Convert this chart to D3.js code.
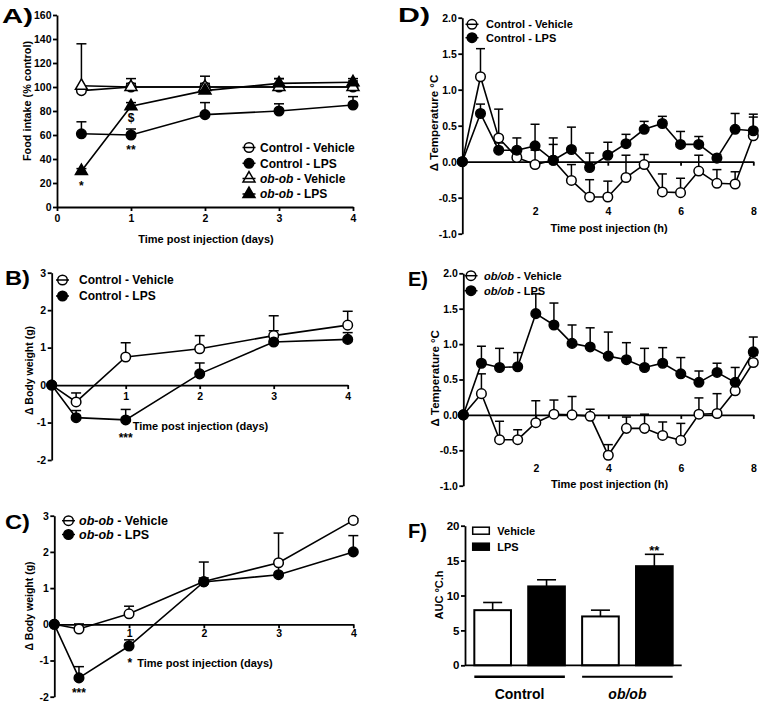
<!DOCTYPE html>
<html>
<head>
<meta charset="utf-8">
<script src="https://cdn.jsdelivr.net/npm/d3@7"></script>
<style>
body { margin: 0; background: #fff; }
svg text { font-family: "Liberation Sans", Arial, Helvetica, sans-serif; font-weight: bold; fill: #000; }
</style>
</head>
<body>
<svg id="fig" width="767" height="709"></svg>
<script>
// ---------------- data ----------------
// A) food intake (% control)
var daysA = [0.33, 1, 2, 3, 4];
var foodCtrlVeh = [97, 100, 100, 100, 100];
var foodCtrlVehSem = [2, 3, 3, 3, 3];
var foodCtrlLps = [61, 60, 77, 80, 85];
var foodCtrlLpsSem = [10, 5, 10, 6, 7];
var foodObVeh = [101, 100, 100, 100, 100];
var foodObVehSem = [35, 7, 9, 7, 5];
var foodObLps = [30, 84, 97, 103, 104];
var foodObLpsSem = [2, 3, 3, 4, 3];

// B) / C) body weight change (g)
var daysBC = [0, 0.33, 1, 2, 3, 4];
var bwCtrlVeh = [0, -0.45, 0.75, 0.97, 1.32, 1.6];
var bwCtrlVehSem = [0, 0.24, 0.38, 0.35, 0.53, 0.37];
var bwCtrlLps = [0, -0.87, -0.93, 0.3, 1.15, 1.22];
var bwCtrlLpsSem = [0, 0.19, 0.28, 0.29, 0.3, 0.18];
var bwObVeh = [0, -0.13, 0.29, 1.18, 1.7, 2.87];
var bwObVehSem = [0, 0.14, 0.21, 0.1, 0.82, 0.05];
var bwObLps = [0, -1.48, -0.6, 1.17, 1.37, 2.0];
var bwObLpsSem = [0, 0.31, 0.17, 0.55, 0.3, 0.45];

// D) / E) temperature change (°C)
var hours = [0, 0.5, 1, 1.5, 2, 2.5, 3, 3.5, 4, 4.5, 5, 5.5, 6, 6.5, 7, 7.5, 8];
var tCtrlVeh = [0, 1.18, 0.33, 0.06, -0.04, 0.02, -0.26, -0.49, -0.49, -0.22, -0.04, -0.42, -0.43, -0.13, -0.3, -0.31, 0.36];
var tCtrlVehSem = [0, 0.39, 0.4, 0.05, 0.2, 0.22, 0.22, 0.24, 0.22, 0.31, 0.14, 0.25, 0.2, 0.22, 0.19, 0.17, 0.26];
var tCtrlLps = [0, 0.67, 0.16, 0.16, 0.22, 0.02, 0.17, -0.08, 0.09, 0.25, 0.45, 0.53, 0.24, 0.24, 0.05, 0.45, 0.43];
var tCtrlLpsSem = [0, 0.13, 0.1, 0.17, 0.3, 0.31, 0.31, 0.2, 0.18, 0.13, 0.11, 0.1, 0.18, 0.11, 0.05, 0.22, 0.23];
var tObVeh = [0, 0.3, -0.35, -0.35, -0.11, 0.01, 0, -0.02, -0.57, -0.19, -0.19, -0.29, -0.36, 0.01, 0.02, 0.34, 0.74];
var tObVehSem = [0, 0.28, 0.26, 0.14, 0.31, 0.2, 0.26, 0.1, 0.15, 0.16, 0.2, 0.19, 0.24, 0.23, 0.28, 0.1, 0.1];
var tObLps = [0, 0.73, 0.67, 0.68, 1.43, 1.27, 1.01, 0.96, 0.83, 0.78, 0.67, 0.73, 0.58, 0.46, 0.6, 0.46, 0.89];
var tObLpsSem = [0, 0.24, 0.27, 0.2, 0.28, 0.31, 0.26, 0.27, 0.34, 0.24, 0.27, 0.22, 0.23, 0.16, 0.13, 0.21, 0.21];

// F) area under curve
var groups = ["Control", "ob/ob"];
var treatments = ["Vehicle", "LPS"];
var aucMean = [[7.9, 11.3], [7.0, 14.2]];
var aucSem = [[1.1, 0.95], [0.9, 1.7]];

// tick values
var ticksFood = [0, 20, 40, 60, 80, 100, 120, 140, 160];
var ticksBw = [-2, -1, 0, 1, 2, 3];
var ticksTemp = [-1, -0.5, 0, 0.5, 1, 1.5, 2];
var ticksAuc = [0, 5, 10, 15, 20];

// ---------------- drawing ----------------
var svg = d3.select("#fig");
var FONT = '"Liberation Sans", Arial, Helvetica, sans-serif';

function styleAxis(g, fs) {
    g.attr("font-family", FONT);
    g.selectAll("path.domain").attr("stroke", "#000").attr("stroke-width", 1.8);
    g.selectAll(".tick line").attr("stroke", "#000").attr("stroke-width", 1.8);
    g.selectAll(".tick text").attr("font-size", fs).attr("font-weight", "bold").attr("fill", "#000");
}

function symbolPath(kind) {
    if (kind.indexOf("tri") == 0) return d3.symbol(d3.symbolTriangle, 62)();
    return d3.symbol(d3.symbolCircle, 72)();
}

function symbolFill(kind) {
    return kind.indexOf("Open") > 0 ? "#fff" : "#000";
}

// writes label parts (some italic) into a text element
function addParts(t, parts) {
    parts.forEach(function(p) {
        t.append("tspan").attr("font-style", p.i ? "italic" : "normal").text(p.t);
    });
}

function panelLabel(txt, x, y, w) {
    svg.append("text").attr("x", x).attr("y", y)
        .attr("font-size", 21)
        .attr("textLength", w).attr("lengthAdjust", "spacingAndGlyphs")
        .text(txt);
}

function linePanel(cfg) {
    var x = d3.scaleLinear().domain(cfg.xDomain).range(cfg.xRange);
    var y = d3.scaleLinear().domain(cfg.yDomain).range(cfg.yRange);
    var g = svg.append("g");

    var yAx = g.append("g")
        .attr("transform", "translate(" + cfg.xRange[0] + ",0)")
        .call(d3.axisLeft(y).tickValues(cfg.yTicks).tickFormat(cfg.yFmt)
            .tickSize(4).tickPadding(1.5).tickSizeOuter(0));
    styleAxis(yAx, cfg.tickFont);

    var xAx = g.append("g")
        .attr("transform", "translate(0," + y(cfg.xAxisAt) + ")")
        .call(d3.axisBottom(x).tickValues(cfg.xTicks).tickFormat(d3.format("d"))
            .tickSize(4).tickPadding(cfg.xPad).tickSizeOuter(0));
    styleAxis(xAx, cfg.tickFont);

    // error bars (mean + SEM)
    cfg.series.forEach(function(s) {
        var eg = g.append("g").attr("stroke", "#000").attr("stroke-width", 1.5);
        s.x.forEach(function(xv, i) {
            if (!s.sem[i]) return;
            var px = x(xv), y0 = y(s.mean[i]), y1 = y(s.mean[i] + s.sem[i]);
            eg.append("line").attr("x1", px).attr("x2", px).attr("y1", y0).attr("y2", y1);
            eg.append("line").attr("x1", px - cfg.cap).attr("x2", px + cfg.cap).attr("y1", y1).attr("y2", y1);
        });
    });

    var line = d3.line().x(function(d) { return x(d[0]); }).y(function(d) { return y(d[1]); });
    cfg.series.forEach(function(s) {
        g.append("path").datum(d3.zip(s.x, s.mean))
            .attr("d", line).attr("fill", "none")
            .attr("stroke", "#000").attr("stroke-width", 1.6);
    });

    cfg.series.forEach(function(s) {
        g.selectAll(null).data(d3.zip(s.x, s.mean)).join("path")
            .attr("transform", function(d) { return "translate(" + x(d[0]) + "," + y(d[1]) + ")"; })
            .attr("d", symbolPath(s.kind))
            .attr("fill", symbolFill(s.kind))
            .attr("stroke", "#000").attr("stroke-width", 1.5);
    });

    // legend: symbol with the line drawn through it
    var lg = cfg.legend;
    cfg.series.forEach(function(s, i) {
        if (i >= lg.rows.length) return;
        var cy = lg.rows[i];
        g.append("path").attr("transform", "translate(" + lg.sx + "," + cy + ")")
            .attr("d", symbolPath(s.kind)).attr("fill", symbolFill(s.kind))
            .attr("stroke", "#000").attr("stroke-width", 1.5);
        g.append("line").attr("x1", lg.sx - 6.5).attr("x2", lg.sx + 6.5)
            .attr("y1", cy).attr("y2", cy).attr("stroke", "#000").attr("stroke-width", 1.5);
        var t = g.append("text").attr("x", lg.tx).attr("y", cy + lg.fs * 0.36)
            .attr("font-size", lg.fs);
        addParts(t, s.label);
    });

    // significance marks
    (cfg.notes || []).forEach(function(n) {
        g.append("text").attr("x", x(n.x)).attr("y", y(n.y))
            .attr("text-anchor", "middle").attr("font-size", 12).text(n.t);
    });

    // axis titles
    g.append("text").attr("x", cfg.xTitle[0]).attr("y", cfg.xTitle[1])
        .attr("text-anchor", "middle").attr("font-size", 11).text(cfg.xTitle[2]);
    g.append("text")
        .attr("transform", "translate(" + cfg.yTitle[0] + "," + cfg.yTitle[1] + ") rotate(-90)")
        .attr("text-anchor", "middle").attr("font-size", cfg.yTitle[3]).text(cfg.yTitle[2]);
}

var intFmt = function(d) { return String(d); };
var oneDec = function(d) { return d.toFixed(1); };

var labCtrlVeh = [{ t: "Control - Vehicle" }];
var labCtrlLps = [{ t: "Control - LPS" }];

// A
linePanel({
    xDomain: [0, 4], xRange: [57, 353], yDomain: [0, 160], yRange: [207, 15],
    yTicks: ticksFood, yFmt: intFmt, xTicks: [0, 1, 2, 3, 4], xAxisAt: 0, xPad: 3.5,
    tickFont: 10.5, cap: 5,
    series: [
        { x: daysA, mean: foodCtrlVeh, sem: foodCtrlVehSem, kind: "circleOpen", label: labCtrlVeh },
        { x: daysA, mean: foodCtrlLps, sem: foodCtrlLpsSem, kind: "circleFill", label: labCtrlLps },
        { x: daysA, mean: foodObVeh, sem: foodObVehSem, kind: "triOpen", label: [{ t: "ob-ob", i: true }, { t: " - Vehicle" }] },
        { x: daysA, mean: foodObLps, sem: foodObLpsSem, kind: "triFill", label: [{ t: "ob-ob", i: true }, { t: " - LPS" }] }
    ],
    legend: { sx: 249, tx: 260, rows: [147.5, 163.3, 178.5, 194], fs: 12 },
    notes: [{ x: 0.33, y: 14.5, t: "*" }, { x: 1, y: 71, t: "$" }, { x: 1, y: 44, t: "**" }],
    xTitle: [206, 242.5, "Time post injection (days)"],
    yTitle: [30.5, 101, "Food intake (% control)", 10.8]
});

// B
linePanel({
    xDomain: [0, 4], xRange: [51.7, 347.7], yDomain: [-2, 3], yRange: [460, 272.7],
    yTicks: ticksBw, yFmt: intFmt, xTicks: [1, 2, 3, 4], xAxisAt: 0, xPad: 3,
    tickFont: 10.5, cap: 5,
    series: [
        { x: daysBC, mean: bwCtrlVeh, sem: bwCtrlVehSem, kind: "circleOpen", label: labCtrlVeh },
        { x: daysBC, mean: bwCtrlLps, sem: bwCtrlLpsSem, kind: "circleFill", label: labCtrlLps }
    ],
    legend: { sx: 62.5, tx: 79, rows: [280, 296], fs: 12 },
    notes: [{ x: 1, y: -1.53, t: "***" }],
    xTitle: [200.5, 430, "Time post injection (days)"],
    yTitle: [33, 370.5, "\u0394 Body weight (g)", 10.5]
});

// C
linePanel({
    xDomain: [0, 4], xRange: [54.3, 353.3], yDomain: [-2, 3], yRange: [696.7, 515.7],
    yTicks: ticksBw, yFmt: intFmt, xTicks: [1, 2, 3, 4], xAxisAt: 0, xPad: 1.5,
    tickFont: 10.5, cap: 5,
    series: [
        { x: daysBC, mean: bwObVeh, sem: bwObVehSem, kind: "circleOpen", label: [{ t: "ob-ob", i: true }, { t: " - Vehicle" }] },
        { x: daysBC, mean: bwObLps, sem: bwObLpsSem, kind: "circleFill", label: [{ t: "ob-ob", i: true }, { t: " - LPS" }] }
    ],
    legend: { sx: 68.5, tx: 79, rows: [520.7, 534.5], fs: 12.5 },
    notes: [{ x: 0.33, y: -2.02, t: "***" }, { x: 1.01, y: -1.17, t: "*" }],
    xTitle: [205, 667, "Time post injection (days)"],
    yTitle: [33, 606, "\u0394 Body weight (g)", 10.5]
});

// D
linePanel({
    xDomain: [0, 8], xRange: [462.3, 753.3], yDomain: [-1, 2], yRange: [233.7, 17.7],
    yTicks: ticksTemp, yFmt: oneDec, xTicks: [2, 4, 6, 8], xAxisAt: 0, xPad: 42.2,
    tickFont: 10.5, cap: 4.5,
    series: [
        { x: hours, mean: tCtrlVeh, sem: tCtrlVehSem, kind: "circleOpen", label: labCtrlVeh },
        { x: hours, mean: tCtrlLps, sem: tCtrlLpsSem, kind: "circleFill", label: labCtrlLps }
    ],
    legend: { sx: 472, tx: 486, rows: [24.3, 37.7], fs: 11 },
    xTitle: [609, 232.3, "Time post injection (h)"],
    yTitle: [437.5, 123, "\u0394 Temperature \u00b0C", 11.5]
});

// E
linePanel({
    xDomain: [0, 8], xRange: [463.3, 753.3], yDomain: [-1, 2], yRange: [485.7, 273.3],
    yTicks: ticksTemp, yFmt: oneDec, xTicks: [2, 4, 6, 8], xAxisAt: 0, xPad: 45.6,
    tickFont: 10.5, cap: 4.5,
    series: [
        { x: hours, mean: tObVeh, sem: tObVehSem, kind: "circleOpen", label: [{ t: "ob/ob", i: true }, { t: " - Vehicle" }] },
        { x: hours, mean: tObLps, sem: tObLpsSem, kind: "circleFill", label: [{ t: "ob/ob", i: true }, { t: " - LPS" }] }
    ],
    legend: { sx: 471, tx: 484, rows: [275.7, 290.7], fs: 11 },
    xTitle: [609.5, 488.3, "Time post injection (h)"],
    yTitle: [438.5, 378.3, "\u0394 Temperature \u00b0C", 11.5]
});

// F) bar chart
(function() {
    var keys = [];
    groups.forEach(function(gr, gi) {
        treatments.forEach(function(tr, ti) {
            keys.push({ key: gr + "|" + tr, g: gi, t: ti, mean: aucMean[gi][ti], sem: aucSem[gi][ti] });
        });
    });
    var x = d3.scaleBand().domain(keys.map(function(k) { return k.key; }))
        .range([465.7, 681.3]).paddingInner(0.32).paddingOuter(0.16);
    var y = d3.scaleLinear().domain([0, 20]).range([665.3, 525.7]);
    var g = svg.append("g");

    var bw = x.bandwidth();
    // error bars behind bars
    keys.forEach(function(k) {
        var cx = x(k.key) + bw / 2, y1 = y(k.mean + k.sem);
        g.append("line").attr("x1", cx).attr("x2", cx).attr("y1", y(k.mean)).attr("y2", y1)
            .attr("stroke", "#000").attr("stroke-width", 1.6);
        g.append("line").attr("x1", cx - 9.5).attr("x2", cx + 9.5).attr("y1", y1).attr("y2", y1)
            .attr("stroke", "#000").attr("stroke-width", 1.6);
    });
    g.selectAll("rect.bar").data(keys).join("rect")
        .attr("class", "bar")
        .attr("x", function(k) { return x(k.key); })
        .attr("width", bw)
        .attr("y", function(k) { return y(k.mean); })
        .attr("height", function(k) { return y(0) - y(k.mean); })
        .attr("fill", function(k) { return k.t == 0 ? "#fff" : "#000"; })
        .attr("stroke", "#000").attr("stroke-width", 2);

    var yAx = g.append("g").attr("transform", "translate(465,0)")
        .call(d3.axisLeft(y).tickValues(ticksAuc).tickFormat(String).tickSize(4).tickPadding(1.5).tickSizeOuter(0));
    styleAxis(yAx, 11.5);
    g.append("line").attr("x1", 465).attr("x2", 681.7).attr("y1", y(0)).attr("y2", y(0))
        .attr("stroke", "#000").attr("stroke-width", 1.8);

    // ** over ob/ob LPS
    var last = keys[3];
    g.append("text").attr("x", x(last.key) + bw / 2).attr("y", y(15.85))
        .attr("text-anchor", "middle").attr("font-size", 13).text("**");

    // group underlines and names
    groups.forEach(function(gr, gi) {
        var a = x(gr + "|" + treatments[0]), b = x(gr + "|" + treatments[1]) + bw;
        g.append("line").attr("x1", a).attr("x2", b).attr("y1", 676.7).attr("y2", 676.7)
            .attr("stroke", "#000").attr("stroke-width", gi == 0 ? 2.5 : 2);
        g.append("text").attr("x", (a + b) / 2).attr("y", 699).attr("text-anchor", "middle")
            .attr("font-size", 14).attr("font-style", gi == 0 ? "normal" : "italic").text(gr);
    });

    // legend
    var rows = [530.7, 546.7];
    treatments.forEach(function(tr, ti) {
        g.append("rect").attr("x", 472.7).attr("y", rows[ti] - 3.5).attr("width", 16.6).attr("height", 7)
            .attr("fill", ti == 0 ? "#fff" : "#000").attr("stroke", "#000").attr("stroke-width", 1.5);
        g.append("text").attr("x", 497.3).attr("y", rows[ti] + 4).attr("font-size", 11).text(tr);
    });

    g.append("text").attr("transform", "translate(442.5,595) rotate(-90)")
        .attr("text-anchor", "middle").attr("font-size", 11).text("AUC \u00b0C.h");
})();

// panel letters
panelLabel("A)", 2, 23, 31);
panelLabel("B)", 5, 285, 25);
panelLabel("C)", 5, 529, 25);
panelLabel("D)", 398, 22, 32);
panelLabel("E)", 408, 286, 20);
panelLabel("F)", 408, 538, 19);
</script>
</body>
</html>
